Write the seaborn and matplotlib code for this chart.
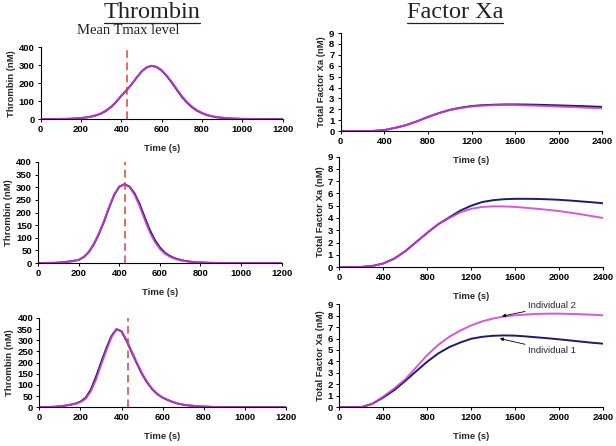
import matplotlib
matplotlib.use("Agg")
import matplotlib.pyplot as plt
from matplotlib.lines import Line2D
import numpy as np
import pandas as pd
import seaborn as sns

# thrombin curves, sampled every 25 s (0..1200)
THROMBIN_TIME = list(range(0, 1225, 25))
THR_TOP_IND1 = [0, 0, 0, 0, 1, 1, 2, 4, 6, 9, 14, 21, 31, 47, 68, 96, 130, 160, 192, 230, 265, 288,
                297, 290, 270, 240, 203, 163, 124, 92, 66, 47, 33, 22, 15, 10, 7, 5, 3, 2, 1, 1,
                0, 0, 0, 0, 0, 0, 0]
THR_TOP_IND2 = [0, 0, 0, 0, 1, 1, 2, 4, 6, 9, 14, 22, 33, 49, 70, 98, 131, 161, 193, 230, 264, 287,
                296, 291, 272, 243, 207, 168, 129, 96, 70, 50, 35, 24, 16, 11, 8, 5, 3, 2, 1, 1,
                1, 0, 0, 0, 0, 0, 0]
THR_MID_IND1 = [0, 0, 1, 1, 2, 4, 6, 9, 13, 24, 44, 75, 116, 165, 220, 270, 302, 312, 303, 276,
                234, 182, 132, 92, 62, 41, 28, 19, 13, 9, 6, 4, 3, 2, 1, 1, 0, 0, 0, 0, 0, 0,
                0, 0, 0, 0, 0, 0, 0]
THR_MID_IND2 = [0, 0, 1, 1, 2, 4, 6, 9, 13, 25, 46, 78, 119, 168, 223, 272, 303, 311, 301, 270,
                226, 172, 122, 84, 56, 37, 25, 17, 11, 8, 5, 4, 3, 2, 1, 1, 0, 0, 0, 0, 0, 0,
                0, 0, 0, 0, 0, 0, 0]
THR_BOT_IND1 = [0, 0, 1, 2, 4, 7, 11, 16, 25, 42, 78, 135, 200, 262, 318, 350, 340, 296, 245, 195,
                148, 110, 80, 58, 43, 32, 23, 16, 11, 8, 6, 4, 3, 2, 1, 1, 0, 0, 0, 0, 0, 0,
                0, 0, 0, 0, 0, 0, 0]
THR_BOT_IND2 = [0, 0, 1, 2, 4, 7, 11, 15, 23, 37, 70, 122, 188, 252, 312, 349, 342, 300, 250, 200,
                152, 113, 82, 60, 44, 33, 24, 17, 12, 9, 6, 4, 3, 2, 1, 1, 0, 0, 0, 0, 0, 0,
                0, 0, 0, 0, 0, 0, 0]
MEAN_TMAX = 430

# total factor Xa curves, sampled every 100 s (0..2400)
XA_TIME = list(range(0, 2500, 100))
XA_TOP_IND1 = [0, 0, 0, 0.02, 0.1, 0.3, 0.55, 0.9, 1.3, 1.65, 1.95, 2.15, 2.3, 2.38, 2.42, 2.45,
               2.45, 2.44, 2.42, 2.39, 2.36, 2.33, 2.3, 2.26, 2.22]
XA_TOP_IND2 = [0, 0, 0, 0.02, 0.1, 0.3, 0.55, 0.9, 1.3, 1.65, 1.93, 2.12, 2.26, 2.34, 2.38, 2.4,
               2.39, 2.36, 2.33, 2.29, 2.25, 2.21, 2.17, 2.13, 2.09]
XA_MID_IND1 = [0, 0, 0.02, 0.1, 0.3, 0.7, 1.3, 2.05, 2.8, 3.5, 4.05, 4.6, 5.0, 5.3, 5.45, 5.53,
               5.56, 5.56, 5.55, 5.52, 5.48, 5.42, 5.35, 5.28, 5.2]
XA_MID_IND2 = [0, 0, 0.02, 0.1, 0.3, 0.7, 1.3, 2.05, 2.8, 3.5, 4.0, 4.45, 4.75, 4.9, 4.95, 4.94,
               4.9, 4.83, 4.75, 4.66, 4.56, 4.44, 4.3, 4.15, 4.0]
XA_BOT_IND1 = [0, 0, 0, 0.3, 0.85, 1.5, 2.3, 3.15, 3.98, 4.7, 5.25, 5.65, 5.98, 6.15, 6.24, 6.27,
               6.25, 6.18, 6.1, 6.02, 5.93, 5.83, 5.73, 5.63, 5.55]
XA_BOT_IND2 = [0, 0, 0, 0.3, 0.93, 1.65, 2.45, 3.5, 4.56, 5.45, 6.15, 6.7, 7.15, 7.5, 7.75, 7.92,
               8.03, 8.1, 8.15, 8.17, 8.17, 8.15, 8.12, 8.08, 8.03]

IND1_COLOR = "#1c1c6e"
IND2_COLOR = "#d23ad2"
DASH_COLOR = "#d9433f"

sns.set_theme(style="ticks")
plt.rcParams["font.family"] = ["Liberation Sans", "DejaVu Sans"]

fig = plt.figure(figsize=(6.16, 4.46), dpi=100)

TICK_SIZE = 6.8
LABEL_SIZE = 6.8


def make_axes(rect):
    ax = fig.add_axes(rect)
    ax.set_facecolor("none")
    sns.despine(ax=ax)
    for side in ("left", "bottom"):
        ax.spines[side].set_color("black")
        ax.spines[side].set_linewidth(0.8)
    ax.tick_params(axis="both", length=2.5, width=0.7, pad=2, colors="black")
    return ax


def draw_pair(ax, t, ind1, ind2):
    df = pd.DataFrame({"t": t, "ind1": ind1, "ind2": ind2})
    sns.lineplot(data=df, x="t", y="ind1", ax=ax, color=IND1_COLOR, linewidth=1.4)
    sns.lineplot(data=df, x="t", y="ind2", ax=ax, color=IND2_COLOR, linewidth=1.4, alpha=0.85)


def finish(ax, xmax, xstep, ymax, ystep, ylabel):
    ax.set_xlim(0, xmax)
    ax.set_ylim(0, ymax)
    ax.set_xticks(np.arange(0, xmax + 1, xstep))
    ax.set_yticks(np.arange(0, ymax + 0.01, ystep))
    ax.set_xlabel("Time (s)", fontsize=LABEL_SIZE, fontweight="bold", labelpad=7)
    ax.set_ylabel(ylabel, fontsize=LABEL_SIZE, fontweight="bold", labelpad=2)
    for lab in ax.get_xticklabels() + ax.get_yticklabels():
        lab.set_fontweight("bold")
        lab.set_fontsize(TICK_SIZE)


left_rects = [
    (0.066, 0.733, 0.393, 0.161),
    (0.062, 0.410, 0.395, 0.227),
    (0.064, 0.087, 0.400, 0.200),
]
right_rects = [
    (0.553, 0.706, 0.425, 0.220),
    (0.551, 0.401, 0.428, 0.248),
    (0.551, 0.087, 0.428, 0.231),
]

thrombin = [
    (THR_TOP_IND1, THR_TOP_IND2, 100),
    (THR_MID_IND1, THR_MID_IND2, 50),
    (THR_BOT_IND1, THR_BOT_IND2, 50),
]
for rect, (i1, i2, ystep) in zip(left_rects, thrombin):
    ax = make_axes(rect)
    draw_pair(ax, THROMBIN_TIME, i1, i2)
    ax.axvline(MEAN_TMAX, color=DASH_COLOR, linewidth=1.1, linestyle=(0, (5, 3)))
    finish(ax, 1200, 200, 400, ystep, "Thrombin (nM)")

factor_xa = [
    (XA_TOP_IND1, XA_TOP_IND2),
    (XA_MID_IND1, XA_MID_IND2),
    (XA_BOT_IND1, XA_BOT_IND2),
]
xa_axes = []
for rect, (i1, i2) in zip(right_rects, factor_xa):
    ax = make_axes(rect)
    draw_pair(ax, XA_TIME, i1, i2)
    finish(ax, 2400, 400, 9, 1, "Total Factor Xa (nM)")
    xa_axes.append(ax)

ax = xa_axes[2]
arrow = dict(arrowstyle="-|>", color="black", lw=0.6, mutation_scale=5,
             shrinkA=0, shrinkB=0)
ax.annotate("Individual 2", xy=(1480, 7.95), xytext=(1720, 8.85), fontsize=LABEL_SIZE,
            va="center", ha="left", arrowprops=arrow)
ax.annotate("Individual 1", xy=(1460, 6.0), xytext=(1720, 4.95), fontsize=LABEL_SIZE,
            va="center", ha="left", arrowprops=arrow)

serif = ["Liberation Serif", "DejaVu Serif"]
titles = [("Thrombin", 152 / 616), ("Factor Xa", 455 / 616)]
fig.canvas.draw()
renderer = fig.canvas.get_renderer()
for label, xc in titles:
    t = fig.text(xc, 1 - 13 / 446, label, family=serif, fontsize=17.5,
                 ha="center", va="center", color="#222222")
    bb = t.get_window_extent(renderer).transformed(fig.transFigure.inverted())
    y_line = 1 - 23 / 446
    fig.add_artist(Line2D([bb.x0, bb.x1], [y_line, y_line], transform=fig.transFigure,
                          color="#222222", linewidth=0.9))

fig.text(77 / 616, 1 - 31 / 446, "Mean Tmax level", family=serif, fontsize=10.5,
         ha="left", va="center", color="#222222")

fig.savefig("out.png", dpi=100)
